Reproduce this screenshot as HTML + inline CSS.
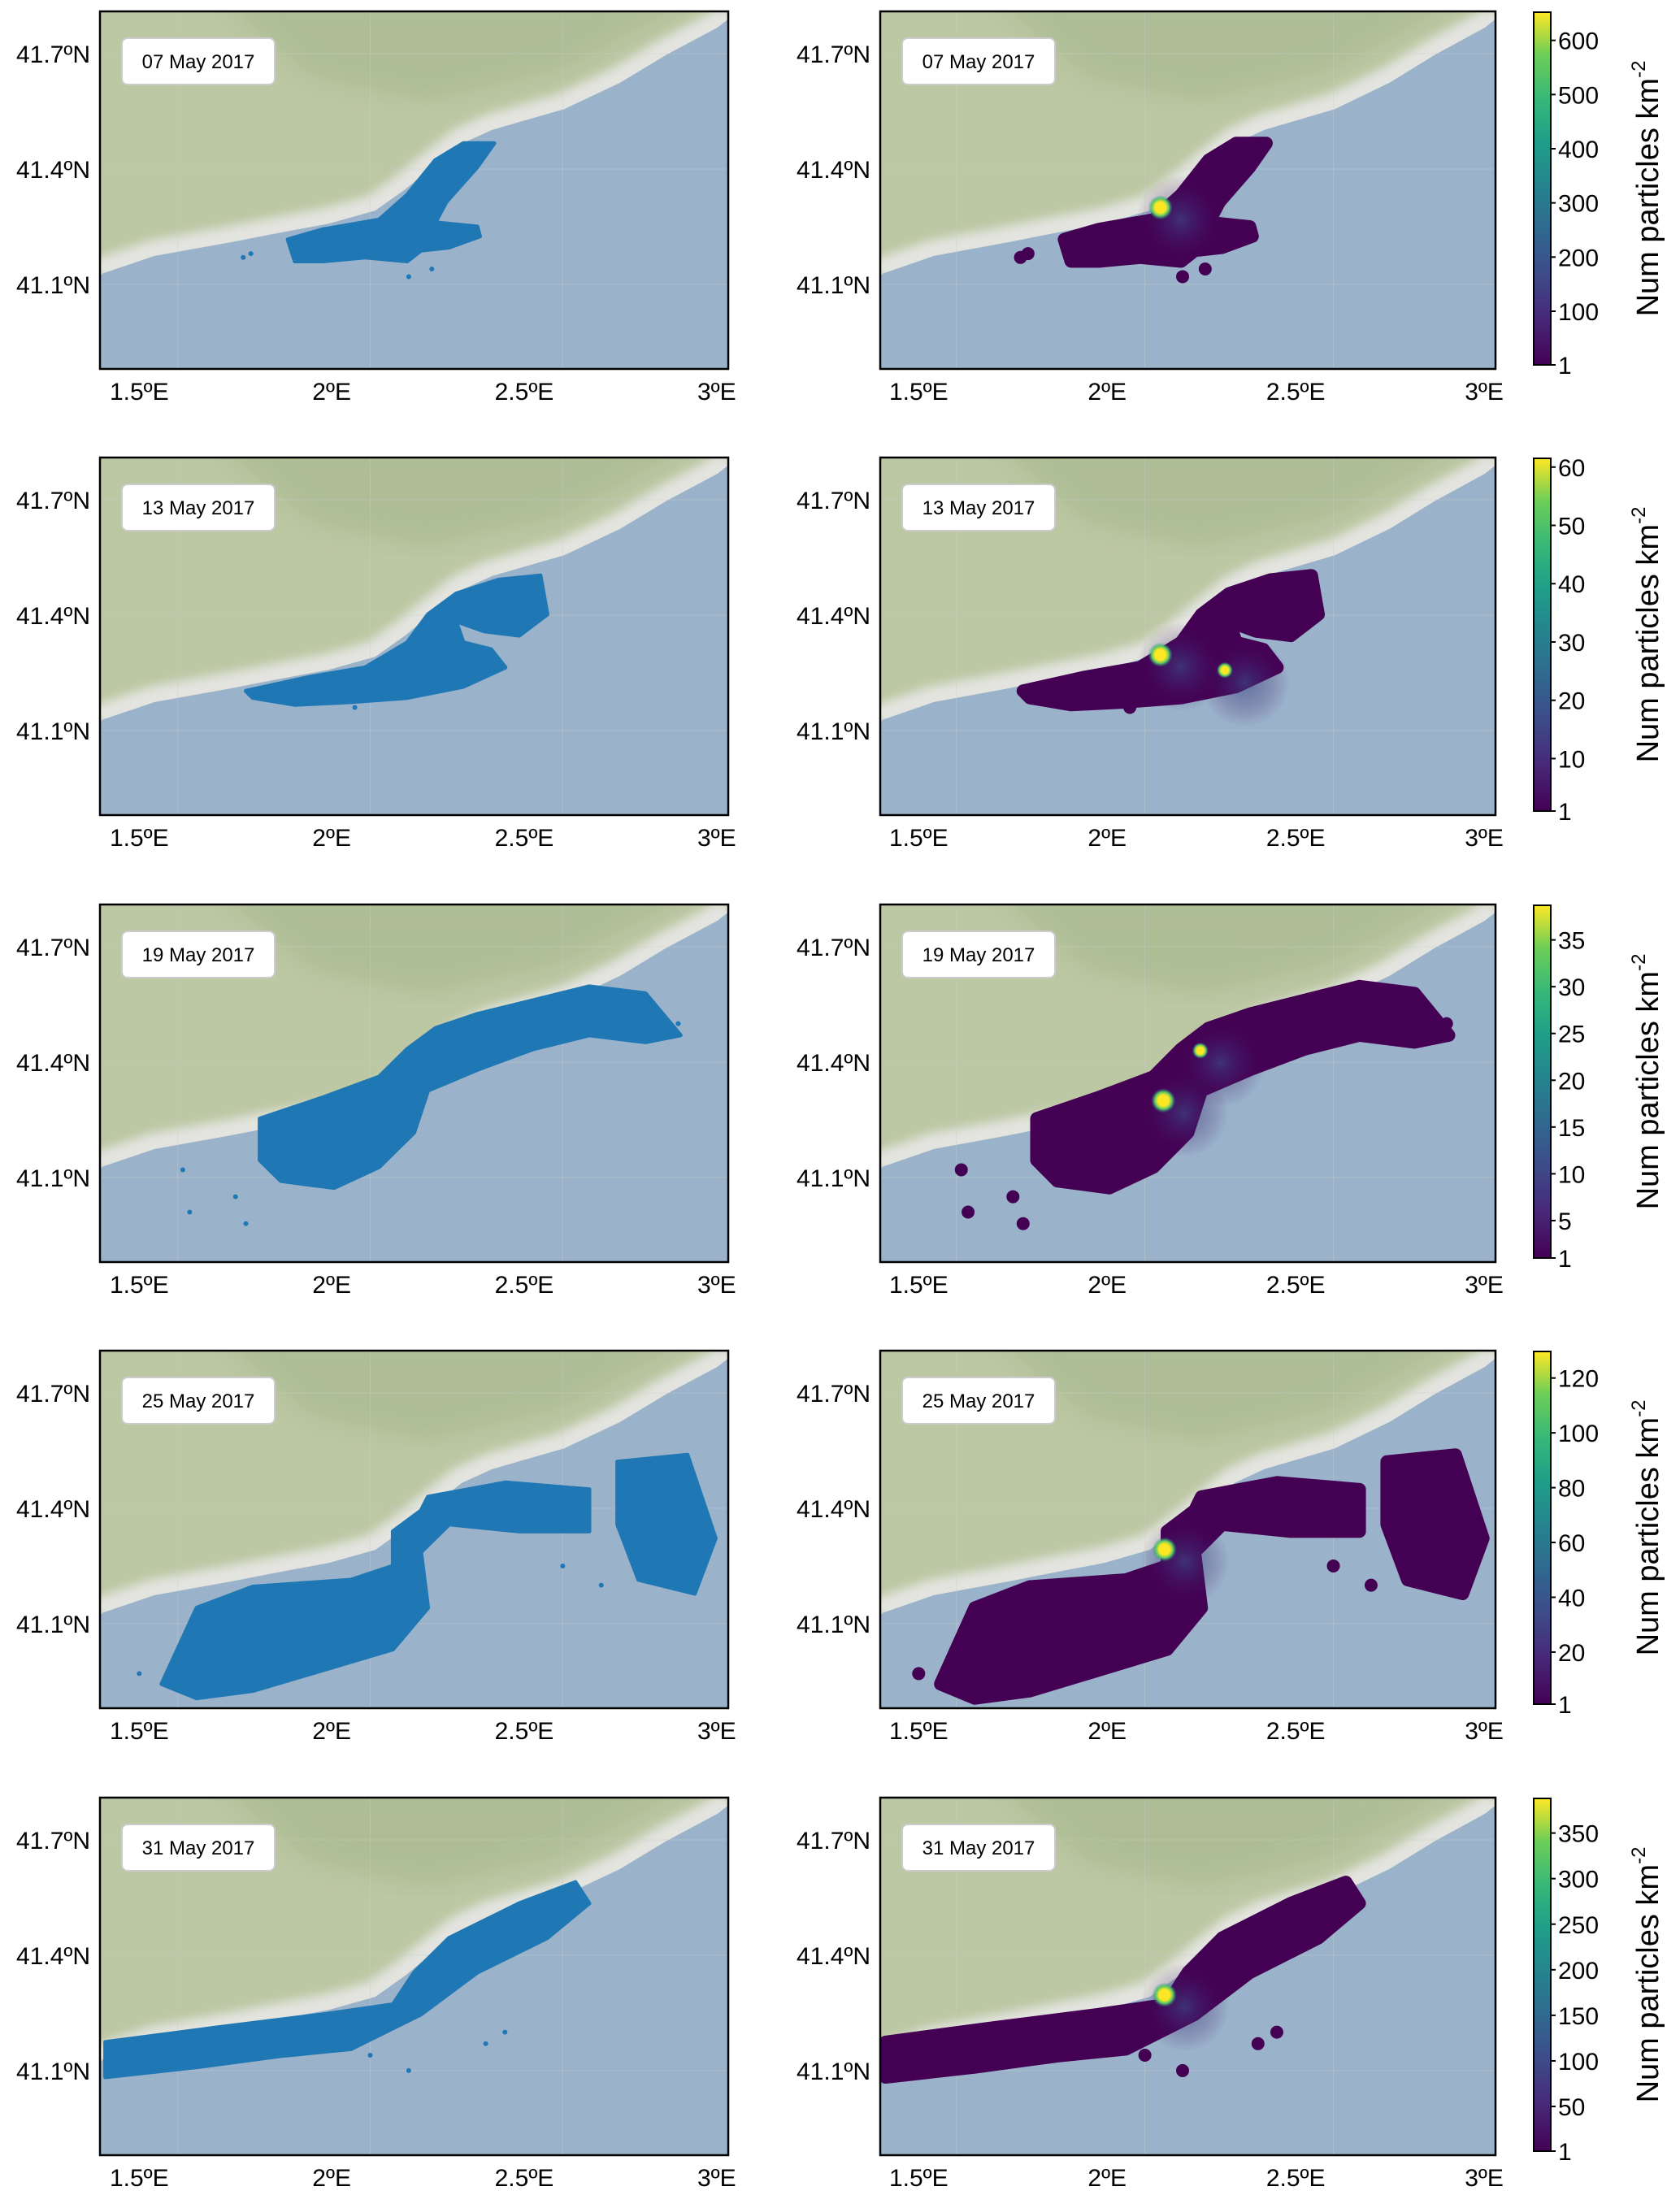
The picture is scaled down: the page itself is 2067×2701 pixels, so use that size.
<!DOCTYPE html>
<html><head><meta charset="utf-8"><style>
html,body{margin:0;padding:0;background:#fff}
svg{display:block;font-family:"Liberation Sans",Arial,sans-serif}
</style></head><body>
<svg id="fig" width="2067" height="2701" viewBox="0 0 2067 2701" xmlns="http://www.w3.org/2000/svg">
<defs>
<radialGradient id="hot"><stop offset="0" stop-color="#fde725"/><stop offset="0.45" stop-color="#fde725"/><stop offset="0.7" stop-color="#5ec962"/><stop offset="1" stop-color="#21918c" stop-opacity="0"/></radialGradient>
<radialGradient id="warm"><stop offset="0" stop-color="#3b528b" stop-opacity="0.6"/><stop offset="1" stop-color="#440154" stop-opacity="0"/></radialGradient>
<linearGradient id="viridis" x1="0" y1="1" x2="0" y2="0">
<stop offset="0" stop-color="#440154"/><stop offset="0.13" stop-color="#482878"/><stop offset="0.25" stop-color="#3e4989"/><stop offset="0.38" stop-color="#31688e"/><stop offset="0.5" stop-color="#26828e"/><stop offset="0.63" stop-color="#1f9e89"/><stop offset="0.75" stop-color="#35b779"/><stop offset="0.88" stop-color="#6ece58"/><stop offset="1" stop-color="#fde725"/>
</linearGradient>
<filter id="blur6"><feGaussianBlur stdDeviation="6"/></filter>
<filter id="blur12"><feGaussianBlur stdDeviation="14"/></filter>
</defs>
</svg>
<script>
// ---- data ----
const dates = ["07 May 2017","13 May 2017","19 May 2017","25 May 2017","31 May 2017"];
const lonTicks = [1.5, 2, 2.5, 3];
const lonTickLabels = ["1.5ºE","2ºE","2.5ºE","3ºE"];
const latTicks = [41.1, 41.4, 41.7];
const latTickLabels = ["41.1ºN","41.4ºN","41.7ºN"];
const coastline = [[1.398,41.12],[1.404,41.128],[1.540,41.174],[1.740,41.210],[1.858,41.233],[1.992,41.258],[2.113,41.292],[2.192,41.348],[2.258,41.403],[2.338,41.466],[2.417,41.502],[2.604,41.556],[2.750,41.625],[2.869,41.697],[3.002,41.768],[3.03,41.79],[3.03,41.81]];
const cloud0 = [[1.886,41.217],[1.977,41.243],[2.123,41.268],[2.196,41.333],[2.269,41.423],[2.342,41.467],[2.422,41.467],[2.378,41.405],[2.298,41.315],[2.269,41.261],[2.378,41.25],[2.385,41.225],[2.305,41.196],[2.232,41.188],[2.196,41.160],[2.087,41.17],[1.977,41.16],[1.904,41.16]];
const cloud1 = [[1.777,41.203],[1.941,41.239],[2.087,41.264],[2.196,41.329],[2.250,41.402],[2.323,41.456],[2.433,41.492],[2.542,41.503],[2.560,41.402],[2.487,41.347],[2.396,41.358],[2.323,41.384],[2.342,41.329],[2.414,41.311],[2.451,41.264],[2.342,41.214],[2.196,41.185],[2.050,41.174],[1.904,41.167],[1.795,41.185]];
const cloud2 = [[1.813,41.253],[1.977,41.308],[2.123,41.362],[2.196,41.434],[2.269,41.488],[2.378,41.525],[2.524,41.561],[2.669,41.597],[2.815,41.579],[2.906,41.470],[2.815,41.452],[2.669,41.470],[2.524,41.434],[2.378,41.380],[2.250,41.326],[2.214,41.217],[2.123,41.127],[2.006,41.073],[1.868,41.091],[1.813,41.145]];
const cloud3 = [[1.558,40.943],[1.649,41.141],[1.795,41.196],[2.050,41.214],[2.159,41.250],[2.159,41.340],[2.232,41.394],[2.250,41.430],[2.451,41.467],[2.669,41.449],[2.669,41.340],[2.487,41.340],[2.305,41.358],[2.232,41.286],[2.250,41.141],[2.159,41.033],[1.977,40.979],[1.795,40.925],[1.649,40.906]];
const cloud3b = [[2.742,41.521],[2.924,41.539],[2.997,41.322],[2.943,41.178],[2.797,41.214],[2.742,41.358]];
const cloud4 = [[1.412,41.174],[1.686,41.210],[1.977,41.246],[2.159,41.272],[2.214,41.355],[2.305,41.445],[2.487,41.535],[2.633,41.590],[2.669,41.535],[2.560,41.445],[2.378,41.355],[2.232,41.246],[2.050,41.156],[1.868,41.138],[1.649,41.109],[1.412,41.083]];
const clouds = [[cloud0],[cloud1],[cloud2],[cloud3,cloud3b],[cloud4]];
const strays = [[[1.77,41.17],[1.79,41.18],[2.20,41.12],[2.26,41.14],[2.40,41.45]],[[1.80,41.19],[2.50,41.44],[2.06,41.16]],[[1.613,41.12],[1.777,40.98],[1.631,41.01],[1.75,41.05],[2.90,41.50]],[[1.50,40.97],[2.60,41.25],[2.70,41.20]],[[2.40,41.17],[2.20,41.10],[2.10,41.14],[2.45,41.20]]];
const hotspots = [[[2.141,41.300]],[[2.141,41.297],[2.312,41.257]],[[2.149,41.300],[2.247,41.430]],[[2.152,41.293]],[[2.152,41.297]]];
const cbMax = [652, 61.5, 38.7, 129.7, 388];
const cbTicks = [[1,100,200,300,400,500,600],[1,10,20,30,40,50,60],[1,5,10,15,20,25,30,35],[1,20,40,60,80,100,120],[1,50,100,150,200,250,300,350]];

// ---- drawing ----
const NS="http://www.w3.org/2000/svg";
const svg=document.getElementById('fig');
function mk(tag,attrs,parent){const e=document.createElementNS(NS,tag);for(const k in attrs)e.setAttribute(k,attrs[k]);(parent||svg).appendChild(e);return e;}
const LON0=1.398,LON1=3.03,LAT0=40.88,LAT1=41.81;
const rowTop=[14,563,1113,1662,2212];
const PH=440;
function panel(row,col){
  const x0=col===0?123:1083, w=col===0?773:757, y0=rowTop[row];
  const X=lon=>x0+(lon-LON0)/(LON1-LON0)*w;
  const Y=lat=>y0+(LAT1-lat)/(LAT1-LAT0)*PH;
  const g=mk('g',{});
  
  
  const cid='clip'+row+'_'+col;
  const cp=mk('clipPath',{id:cid},g);mk('rect',{x:x0,y:y0,width:w,height:PH},cp);
  const inner=mk('g',{'clip-path':'url(#'+cid+')'},g);
  const sea=mk('rect',{x:x0,y:y0,width:w,height:PH,fill:'#9ab3cb'},inner);
  
  let coastD='';
  coastline.forEach((p,i)=>{coastD+=(i?'L':'M')+X(p[0]).toFixed(1)+','+Y(p[1]).toFixed(1)+' ';});
  const d='M'+X(LON0-0.05)+','+Y(LAT1+0.05)+' L'+X(LON0-0.05)+','+Y(41.12)+' '+coastD.replace('M','L')+' L'+X(3.1)+','+Y(LAT1+0.05)+' Z';
  const lid='land'+row+'_'+col;
  const lcp=mk('clipPath',{id:lid},g);mk('path',{d:d},lcp);
  const landG=mk('g',{'clip-path':'url(#'+lid+')'},inner);
  const land=mk('path',{d:d,fill:'#bcc7a3'},landG);
  
  const rel=mk('path',{d:'M'+X(1.7)+','+Y(41.85)+' L'+X(2.95)+','+Y(41.85)+' L'+X(2.6)+','+Y(41.66)+' L'+X(2.25)+','+Y(41.58)+' L'+X(1.95)+','+Y(41.64)+' Z',fill:'#9fb487',opacity:0.5,filter:'url(#blur12)'},landG);
  
  mk('path',{d:coastD,fill:'none',stroke:'#e3e4df','stroke-width':40,filter:'url(#blur6)'},landG);
  // faint gridlines
  lonTicks.forEach(v=>mk('line',{x1:X(v+0.1),x2:X(v+0.1),y1:y0,y2:y0+PH,stroke:'#ccc','stroke-width':1,opacity:0.4},inner));
  latTicks.forEach(v=>mk('line',{x1:x0,x2:x0+w,y1:Y(v),y2:Y(v),stroke:'#ccc','stroke-width':1,opacity:0.4},inner));
  // particles
  const col1=col===0?'#1f77b4':'#440154';
  const sw=col===0?5:16;
  clouds[row].forEach(c=>{
    let pd='';c.forEach((p,i)=>{pd+=(i?'L':'M')+X(p[0]).toFixed(1)+','+Y(p[1]).toFixed(1)+' ';});pd+='Z';
    const cl=mk('path',{d:pd,fill:col1,stroke:col1,'stroke-width':sw,'stroke-linejoin':'round'},inner);
    
  });
  strays[row].forEach(p=>{
    const s=mk('circle',{cx:X(p[0]),cy:Y(p[1]),r:col===0?3:8,fill:col1},inner);
    
  });
  if(col===1){
    hotspots[row].forEach((p,i)=>{
      mk('circle',{cx:X(p[0])+25,cy:Y(p[1])+15,r:55,fill:'url(#warm)'},inner);
      const h=mk('circle',{cx:X(p[0]),cy:Y(p[1]),r:i===0?15:10,fill:'url(#hot)'},inner);
      
    });
  }
  mk('rect',{x:x0,y:y0,width:w,height:PH,fill:'none',stroke:'#000','stroke-width':2.5},g);
  // date box
  const bx=x0+27;
  const box=mk('rect',{x:bx,y:y0+33,width:188,height:57,rx:7,fill:'#fff',stroke:'#ccc','stroke-width':2},g);
  
  const dt=mk('text',{x:bx+94,y:y0+70,'font-size':24,'text-anchor':'middle',fill:'#000'},g);
  dt.textContent=dates[row];
  
  latTicks.forEach((v,i)=>{const t=mk('text',{x:x0-12,y:Y(v)+11,'font-size':30,'text-anchor':'end'},g);t.textContent=latTickLabels[i];
    });
  lonTicks.forEach((v,i)=>{const t=mk('text',{x:X(v),y:y0+PH+38,'font-size':30,'text-anchor':'middle'},g);t.textContent=lonTickLabels[i];
    });
  if(col===1){
    const cy0=y0+1, ch=434, cx=1887;
    const cbY=v=>cy0+ch-(v-1)/(cbMax[row]-1)*ch;
    const cb=mk('rect',{x:cx,y:cy0,width:21,height:ch,fill:'url(#viridis)',stroke:'#000','stroke-width':2},g);
    
    cbTicks[row].forEach(v=>{
      mk('line',{x1:cx+21,x2:cx+27,y1:cbY(v),y2:cbY(v),stroke:'#000','stroke-width':2},g);
      const t=mk('text',{x:cx+30,y:cbY(v)+11,'font-size':30},g);t.textContent=String(v);
      
    });
    const lx=2040, ly=cy0+ch/2;
    const lt=mk('text',{x:lx,y:ly,'font-size':38,'text-anchor':'middle',transform:'rotate(-90 '+lx+' '+ly+')'},g);
    lt.textContent='Num particles km';
    const sup=mk('tspan',{'font-size':24,dy:-16},lt);sup.textContent='-2';
    
  }
}
for(let r=0;r<5;r++){panel(r,0);panel(r,1);}
</script>
</body></html>
